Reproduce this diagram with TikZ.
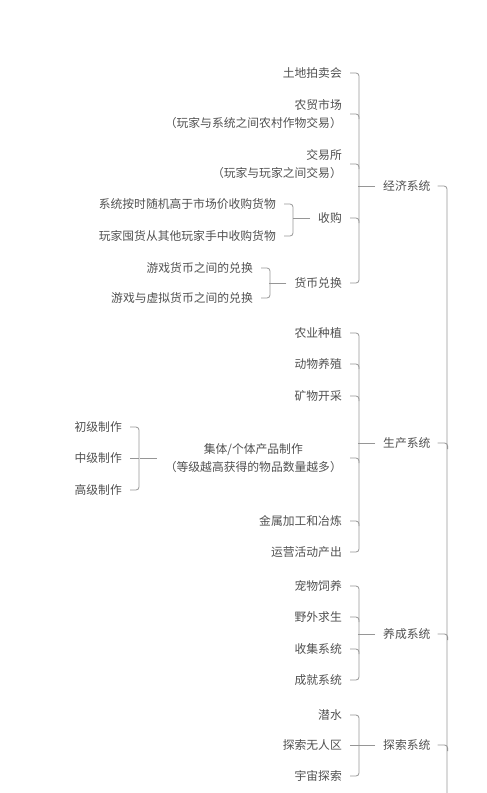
\documentclass[tikz,border=0pt]{standalone}
\usepackage{fontspec}
\setmainfont{Noto Sans CJK SC}
\usetikzlibrary{calc}

\definecolor{mindtext}{RGB}{80,80,80}
\definecolor{mindline}{RGB}{150,150,150}

\tikzset{
    leaf/.style={anchor=east, inner sep=0pt, align=right, text=mindtext,
        font=\fontsize{11.8}{18.5}\selectfont},
    topic/.style={anchor=west, inner sep=0pt, text=mindtext,
        font=\fontsize{11.8}{18.5}\selectfont},
    branch/.style={draw=mindline, line width=0.8pt, rounded corners=3pt},
}

\begin{document}
\begin{tikzpicture}[x=1pt,y=-1pt]
    \useasboundingbox (0,0) rectangle (487,793);

    % Economy
    \node[leaf] (land) at (342,73) {土地拍卖会};
    \node[leaf] (farm) at (342,114) {农贸市场\\（玩家与系统之间农村作物交易）};
    \node[leaf] (trade) at (342,164) {交易所\\（玩家与玩家之间交易）};
    \node[leaf] (buy) at (342,218) {收购};
    \node[leaf] (coin) at (342,283) {货币兑换};
    \node[topic] (econ) at (383,186) {经济系统};

    \node[leaf] (buysys) at (276,204) {系统按时随机高于市场价收购货物};
    \node[leaf] (buyply) at (276,236) {玩家囤货从其他玩家手中收购货物};
    \node[leaf] (coingame) at (253,268) {游戏货币之间的兑换};
    \node[leaf] (coinreal) at (253,298) {游戏与虚拟货币之间的兑换};

    % Production
    \node[leaf] (plant) at (342,333) {农业种植};
    \node[leaf] (breed) at (342,364) {动物养殖};
    \node[leaf] (mine) at (342,396) {矿物开采};
    \node[leaf, align=center] (craft) at (342,458) {集体/个体产品制作\\（等级越高获得的物品数量越多）};
    \node[leaf] (metal) at (342,521) {金属加工和冶炼};
    \node[leaf] (operate) at (342,552) {运营活动产出};
    \node[topic] (prod) at (383,443) {生产系统};

    \node[leaf] (basic) at (122,427) {初级制作};
    \node[leaf] (middle) at (122,458) {中级制作};
    \node[leaf] (senior) at (122,490) {高级制作};

    % Growth
    \node[leaf] (pet) at (342,586) {宠物饲养};
    \node[leaf] (wild) at (342,617) {野外求生};
    \node[leaf] (collect) at (342,649) {收集系统};
    \node[leaf] (achieve) at (342,680) {成就系统};
    \node[topic] (grow) at (383,634) {养成系统};

    % Exploration
    \node[leaf] (dive) at (342,715) {潜水};
    \node[leaf] (noman) at (342,745) {探索无人区};
    \node[leaf] (space) at (342,776) {宇宙探索};
    \node[topic] (explore) at (383,745) {探索系统};

    \coordinate (rootend) at (447,793);

    % Brackets
    \foreach \a/\b in {land/coin, buysys/buyply, coingame/coinreal, plant/operate,
                       basic/senior, pet/achieve, dive/space}
        \draw[branch] ($(\a.east)+(8,0)$) -| ($(\b.east)+(17,0)$) -- ($(\b.east)+(8,0)$);
    \foreach \n in {farm, trade, buy, breed, mine, craft, metal, wild, collect}
        \draw[branch] ($(\n.east)+(8,0)$) -| ($(\n.east)+(17,5)$);
    \foreach \n in {middle, noman}
        \draw[branch] ($(\n.east)+(8,0)$) -- ($(\n.east)+(17,0)$);

    % Parent lines
    \foreach \p in {econ, buy, coin, prod, craft, grow, explore}
        \draw[branch] ($(\p.west)+(-8,0)$) -- ($(\p.west)+(-25,0)$);

    % Root line
    \draw[branch] ($(econ.east)+(7,0)$) -| (rootend);
    \foreach \p in {prod, grow, explore}
        \draw[branch] ($(\p.east)+(7,0)$) -| ($(\p.east)+(17,6)$);
\end{tikzpicture}
\end{document}
